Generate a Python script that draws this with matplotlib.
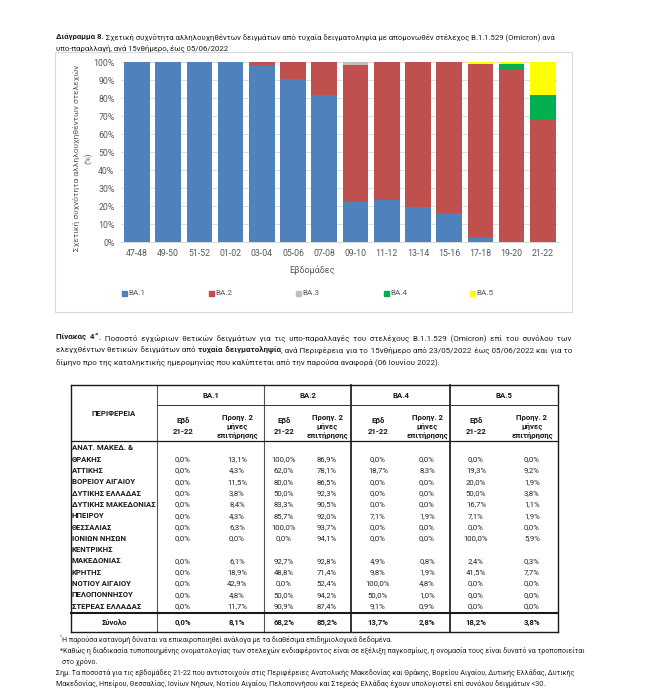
import numpy as np
import matplotlib
matplotlib.use("Agg")
import matplotlib.pyplot as plt
from matplotlib.patches import Rectangle

plt.rcParams['font.family'] = ['Roboto', 'DejaVu Sans']

# === Chart data (relative frequency, %) ===
weeks = ['47-48', '49-50', '51-52', '01-02', '03-04', '05-06', '07-08',
         '09-10', '11-12', '13-14', '15-16', '17-18', '19-20', '21-22']
ba1 = [100, 100, 100, 100, 98.5, 90.7, 81.7, 22.2, 23.5, 19.4, 16.1, 3.0, 0.2, 0.0]
ba2 = [0, 0, 0, 0, 1.5, 9.3, 18.3, 76.3, 76.5, 80.6, 83.9, 96.1, 95.2, 68.2]
ba3 = [0, 0, 0, 0, 0, 0, 0, 1.5, 0, 0, 0, 0, 0, 0]
ba4 = [0, 0, 0, 0, 0, 0, 0, 0, 0, 0, 0, 0, 3.3, 13.7]
ba5 = [0, 0, 0, 0, 0, 0, 0, 0, 0, 0, 0, 0.9, 1.3, 18.2]
series_names = ['BA.1', 'BA.2', 'BA.3', 'BA.4', 'BA.5']
series_colors = ['#4F81BD', '#C0504D', '#BFBFBF', '#00B050', '#FFFF00']

# === Table data (%): week 21-22 / previous 2 months, per sub-lineage ===
regions = [['ΑΝΑΤ. ΜΑΚΕΔ. &', 'ΘΡΑΚΗΣ'], ['ΑΤΤΙΚΗΣ'], ['ΒΟΡΕΙΟΥ ΑΙΓΑΙΟΥ'],
           ['ΔΥΤΙΚΗΣ ΕΛΛΑΔΑΣ'], ['ΔΥΤΙΚΗΣ ΜΑΚΕΔΟΝΙΑΣ'], ['ΗΠΕΙΡΟΥ'],
           ['ΘΕΣΣΑΛΙΑΣ'], ['ΙΟΝΙΩΝ ΝΗΣΩΝ'], ['ΚΕΝΤΡΙΚΗΣ', 'ΜΑΚΕΔΟΝΙΑΣ'],
           ['ΚΡΗΤΗΣ'], ['ΝΟΤΙΟΥ ΑΙΓΑΙΟΥ'], ['ΠΕΛΟΠΟΝΝΗΣΟΥ'], ['ΣΤΕΡΕΑΣ ΕΛΛΑΔΑΣ']]
ba1_wk = [0.0] * 13
ba1_prev = [13.1, 4.3, 11.5, 3.8, 8.4, 4.3, 6.3, 0.0, 6.1, 18.9, 42.9, 4.8, 11.7]
ba2_wk = [100.0, 62.0, 80.0, 50.0, 83.3, 85.7, 100.0, 0.0, 92.7, 48.8, 0.0, 50.0, 90.9]
ba2_prev = [86.9, 78.1, 86.5, 92.3, 90.5, 92.0, 93.7, 94.1, 92.8, 71.4, 52.4, 94.2, 87.4]
ba4_wk = [0.0, 18.7, 0.0, 0.0, 0.0, 7.1, 0.0, 0.0, 4.9, 9.8, 100.0, 50.0, 9.1]
ba4_prev = [0.0, 8.3, 0.0, 0.0, 0.0, 1.9, 0.0, 0.0, 0.8, 1.9, 4.8, 1.0, 0.9]
ba5_wk = [0.0, 19.3, 20.0, 50.0, 16.7, 7.1, 0.0, 100.0, 2.4, 41.5, 0.0, 0.0, 0.0]
ba5_prev = [0.0, 9.2, 1.9, 3.8, 1.1, 1.9, 0.0, 5.9, 0.3, 7.7, 0.0, 0.0, 0.0]
totals = [0.0, 8.1, 68.2, 85.2, 13.7, 2.8, 18.2, 3.8]
groups = ['BA.1', 'BA.2', 'BA.4', 'BA.5']

W, H = 650, 692
fig = plt.figure(figsize=(W / 100, H / 100), dpi=100)
page = fig.add_axes([0, 0, 1, 1])
page.axis('off')
renderer = fig.canvas.get_renderer()
HAIR = '\u200a'


def box(l, t, r, b):
    return [l / W, 1 - b / H, (r - l) / W, (b - t) / H]


def width_of(a):
    return a.get_window_extent(renderer).width


def write(parts, x, y, right=None, size=5.6, color='#1f1f1f'):
    # parts: (text, style), style 'n', 'b' or 'sup'; y is the baseline.
    # justified lines get hair spaces added after the normal spaces
    arts = []
    for text, st in parts:
        kw = dict(fontsize=size, color=color, ha='left', va='baseline')
        dy = 0
        if st == 'b':
            kw['fontweight'] = 'bold'
        if st == 'sup':
            kw['fontsize'] = size * 0.65
            kw['fontweight'] = 'bold'
            dy = -size * 0.55
        arts.append([page.text(x, y + dy, text, **kw), text])
    if right is not None:
        natural = sum(width_of(a) for a, _ in arts)
        n_sp = sum(t.count(' ') for _, t in arts)
        probe1 = page.text(0, 0, 'a' + HAIR * 10 + 'a', fontsize=size)
        probe0 = page.text(0, 0, 'aa', fontsize=size)
        hair = (width_of(probe1) - width_of(probe0)) / 10
        probe1.remove()
        probe0.remove()
        total = max(0, int(round((right - x - natural) / hair)))
        done, k = 0, 0
        for item in arts:
            out = ''
            for ch in item[1]:
                out += ch
                if ch == ' ':
                    k += 1
                    want = int(round(total * k / n_sp))
                    out += HAIR * (want - done)
                    done = want
            item[0].set_text(out)
    cx = x
    for a, _ in arts:
        a.set_x(cx)
        cx += width_of(a)


# === Title ===
write([('Διάγραμμα 8.', 'b'),
       (' Σχετική συχνότητα αλληλουχηθέντων δειγμάτων από τυχαία δειγματοληψία με απομονωθέν στέλεχος B.1.1.529 (Omicron) ανά', 'n')],
      56, 39, size=5.6)
write([('υπο-παραλλαγή, ανά 15νθήμερο, έως 05/06/2022', 'n')], 56, 50, size=5.6)

# === Chart ===
page.add_patch(Rectangle((55, 52), 517, 260, fill=False, ec='#D9D9D9', lw=0.8))
ax = fig.add_axes(box(121.4, 62, 558.4, 242))
x = np.arange(len(weeks))
bottom = np.zeros(len(weeks))
for vals, name, col in zip([ba1, ba2, ba3, ba4, ba5], series_names, series_colors):
    ax.bar(x, vals, bottom=bottom, width=0.82, color=col, label=name, zorder=3)
    bottom += np.array(vals)
ax.set_xlim(-0.5, len(weeks) - 0.5)
ax.set_ylim(0, 100)
ax.set_yticks(range(0, 101, 10))
ax.set_yticklabels([f'{v}%' for v in range(0, 101, 10)])
ax.set_xticks(x)
ax.set_xticklabels(weeks)
ax.tick_params(length=0, labelsize=6.3, colors='#595959', pad=5)
ax.grid(axis='y', color='#D9D9D9', lw=0.6, zorder=0)
for s in ['top', 'right', 'left']:
    ax.spines[s].set_visible(False)
ax.spines['bottom'].set_color('#D9D9D9')
ax.patch.set_alpha(0)

page.text(76, 158, 'Σχετική συχνότητα αλληλουχηθέντων στελεχών', rotation=90,
          ha='center', va='center', fontsize=6.0, color='#595959')
page.text(89, 158, '(%)', rotation=90, ha='center', va='center', fontsize=6.0, color='#595959')
page.text(312, 270, 'Εβδομάδες', ha='center', va='center', fontsize=6.5, color='#595959')

leg_x = [122, 209, 296, 384, 470]
for lx, name, col in zip(leg_x, series_names, series_colors):
    page.add_patch(Rectangle((lx, 291), 4.5, 4.5, color=col))
    page.text(lx + 6, 293, name, ha='left', va='center', fontsize=5.9, color='#595959')

# === Table caption ===
write([('Πίνακας 4', 'b'), ('*¹', 'sup'), ('.', 'b'),
       (' Ποσοστό εγχώριων θετικών δειγμάτων για τις υπο-παραλλαγές του στελέχους B.1.1.529 (Omicron) επί του συνόλου των', 'n')],
      56, 340, right=572, size=5.8)
write([('ελεγχθέντων θετικών δειγμάτων από ', 'n'), ('τυχαία δειγματοληψία', 'b'),
       (', ανά Περιφέρεια για το 15νθήμερο από 23/05/2022 έως 05/06/2022 και για το', 'n')],
      56, 352, right=572, size=5.8)
write([('δίμηνο προ της καταληκτικής ημερομηνίας που καλύπτεται από την παρούσα αναφορά (06 Ιουνίου 2022).', 'n')],
      56, 364, size=5.8)

# === Table ===
vx = [71, 157, 264, 351, 450, 558]
t_top, t_grp, t_head, t_sum, t_bot = 385, 405, 441, 613, 632
v_style = {71: ('#1a1a1a', 1.0), 157: ('#555555', 0.8), 264: ('#555555', 0.8),
           351: ('#111111', 1.2), 450: ('#111111', 1.2), 558: ('#1a1a1a', 1.0)}
for xv in vx:
    c, lw = v_style[xv]
    page.plot([xv, xv], [t_top, t_bot], color=c, lw=lw)
page.plot([71, 558], [t_top, t_top], color='#1a1a1a', lw=1.0)
page.plot([157, 558], [t_grp, t_grp], color='#333333', lw=0.7)
page.plot([71, 558], [t_head, t_head], color='#1a1a1a', lw=0.9)
page.plot([71, 558], [t_sum, t_sum], color='#1a1a1a', lw=1.5)
page.plot([71, 558], [t_bot, t_bot], color='#1a1a1a', lw=1.0)

fs = 5.6
hdr = dict(ha='center', va='center', fontsize=fs, fontweight='bold', color='#1a1a1a')
page.text(114, 414, 'ΠΕΡΙΦΕΡΕΙΑ', **hdr)
col_x = [183, 237, 284, 327, 378, 427, 476, 532]
for i, g in enumerate(groups):
    page.text((vx[i + 1] + vx[i + 2]) / 2, 395, g, **hdr)
    page.text(col_x[2 * i], 421, 'Εβδ', **hdr)
    page.text(col_x[2 * i], 431.5, '21-22', **hdr)
    page.text(col_x[2 * i + 1], 417.5, 'Προηγ. 2', **hdr)
    page.text(col_x[2 * i + 1], 427, 'μήνες', **hdr)
    page.text(col_x[2 * i + 1], 436.5, 'επιτήρησης', **hdr)


def pct(v):
    return f'{v:.1f}%'.replace('.', ',')


columns = [ba1_wk, ba1_prev, ba2_wk, ba2_prev, ba4_wk, ba4_prev, ba5_wk, ba5_prev]
line_y = 448
for r, names in enumerate(regions):
    for name in names:
        page.text(72, line_y, name, ha='left', va='center', fontsize=fs,
                  fontweight='bold', color='#1a1a1a')
        line_y += 11.3
    for cx, col in zip(col_x, columns):
        page.text(cx, line_y - 11.3, pct(col[r]), ha='center', va='center',
                  fontsize=fs, color='#262626')
page.text(114, 622.5, 'Σύνολο', **hdr)
for cx, v in zip(col_x, totals):
    page.text(cx, 622.5, pct(v), **hdr)

# === Footnotes ===
fn = 5.15
write([('¹', 'sup'), ('Η παρούσα κατανομή δύναται να επικαιροποιηθεί ανάλογα με τα διαθέσιμα επιδημιολογικά δεδομένα.', 'n')],
      60, 642, size=fn)
write([('*Καθώς η διαδικασία τυποποιημένης ονοματολογίας των στελεχών ενδιαφέροντος είναι σε εξέλιξη παγκοσμίως, η ονομασία τους είναι δυνατό να τροποποιείται', 'n')],
      60, 653, right=560, size=fn)
write([('στο χρόνο.', 'n')], 62, 663.5, size=fn)
write([('Σημ. Τα ποσοστά για τις εβδομάδες 21-22 που αντιστοιχούν στις Περιφέρειες Ανατολικής Μακεδονίας και Θράκης, Βορείου Αιγαίου, Δυτικής Ελλάδας, Δυτικής', 'n')],
      56, 675, right=560, size=fn)
write([('Μακεδονίας, Ηπείρου, Θεσσαλίας, Ιονίων Νήσων, Νοτίου Αιγαίου, Πελοποννήσου και Στερεάς Ελλάδας έχουν υπολογιστεί επί συνόλου δειγμάτων <30.', 'n')],
      56, 686, size=fn)

page.set_xlim(0, W)
page.set_ylim(H, 0)
fig.savefig('out.png', dpi=100)
